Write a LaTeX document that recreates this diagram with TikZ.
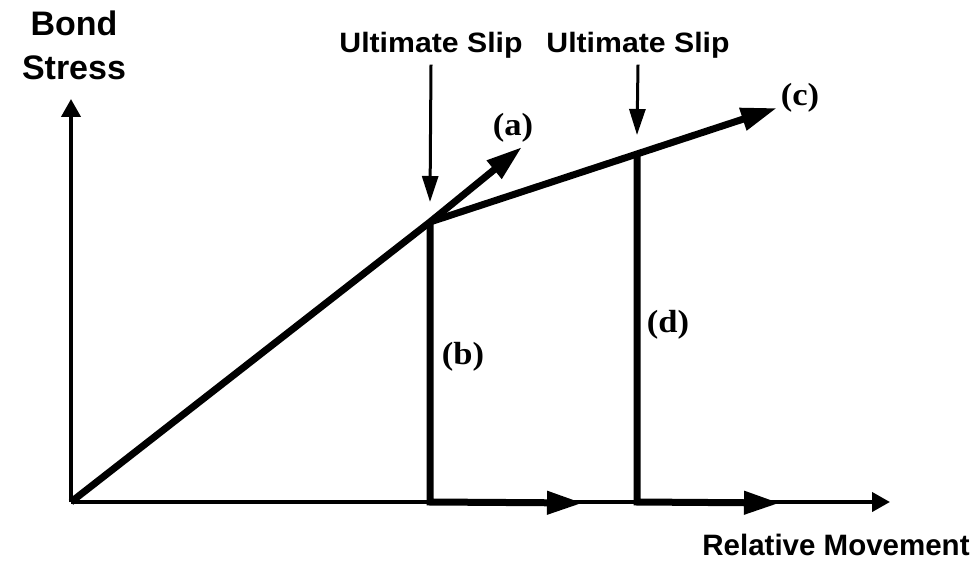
\documentclass[tikz,border=0pt]{standalone}
\usepackage{fontspec}
\setmainfont{Liberation Sans}
\newfontfamily\serifb{Liberation Serif}
\usetikzlibrary{arrows.meta}
\tikzset{
  axis/.style={line width=4pt,-{Triangle[length=18pt,width=19pt]}},
  slip/.style={line width=3pt,-{Triangle[length=26pt,width=16pt]}},
  thick path/.style={line width=7pt,-{Triangle[length=36pt,width=22pt]}},
  curve label/.style={font=\serifb\bfseries\fontsize{32}{32}\selectfont, xscale=1.08},
  head label/.style={font=\bfseries\fontsize{29.5}{44}\selectfont},
  slip label/.style={font=\bfseries\fontsize{28}{28}\selectfont, xscale=1.08},
}
\begin{document}
\begin{tikzpicture}[x=1pt,y=-1pt]
\useasboundingbox (0,0) rectangle (976,569);
\coordinate (O) at (71,502);
\coordinate (Ytip) at (71,99);
\coordinate (Xtip) at (890,502);
\coordinate (P1) at (430,222);
\coordinate (P2) at (637,153);
\coordinate (B1) at (430,502);
\coordinate (B2) at (637,502);
\coordinate (Atip) at (522,147);
\coordinate (Ctip) at (777,108);
\coordinate (H1) at (583,503);
\coordinate (H2) at (780,503);
% axes
\draw[axis] (O) -- (Ytip);
\draw[axis] (O) -- (Xtip);
% curves
\draw[thick path, line join=miter] (O) -- (P1) -- (Atip);
\draw[thick path] (P1) -- (Ctip);
\draw[thick path, line join=miter] (P1) -- (B1) -- (H1);
\draw[thick path, line join=miter] (P2) -- (B2) -- (H2);
% labels
\node[font=\bfseries\fontsize{34}{44}\selectfont, align=center] (ylab) at (74,45) {Bond\\Stress};
\node[head label] (xlab) at (836,545) {Relative Movement};
\node[slip label] (s1) at (431,45) {Ultimate Slip};
\node[slip label] (s2) at (638,45) {Ultimate Slip};
\draw[slip] (s1.south) ++(0,3) -- (P1 |- 0,202);
\draw[slip] (s2.south) ++(0,3) -- (P2 |- 0,135);
\node[curve label] (la) at (513,128) {(a)};
\node[curve label] (lb) at (463,357) {(b)};
\node[curve label] (lc) at (800,98) {(c)};
\node[curve label] (ld) at (668,325) {(d)};
\end{tikzpicture}
\end{document}
